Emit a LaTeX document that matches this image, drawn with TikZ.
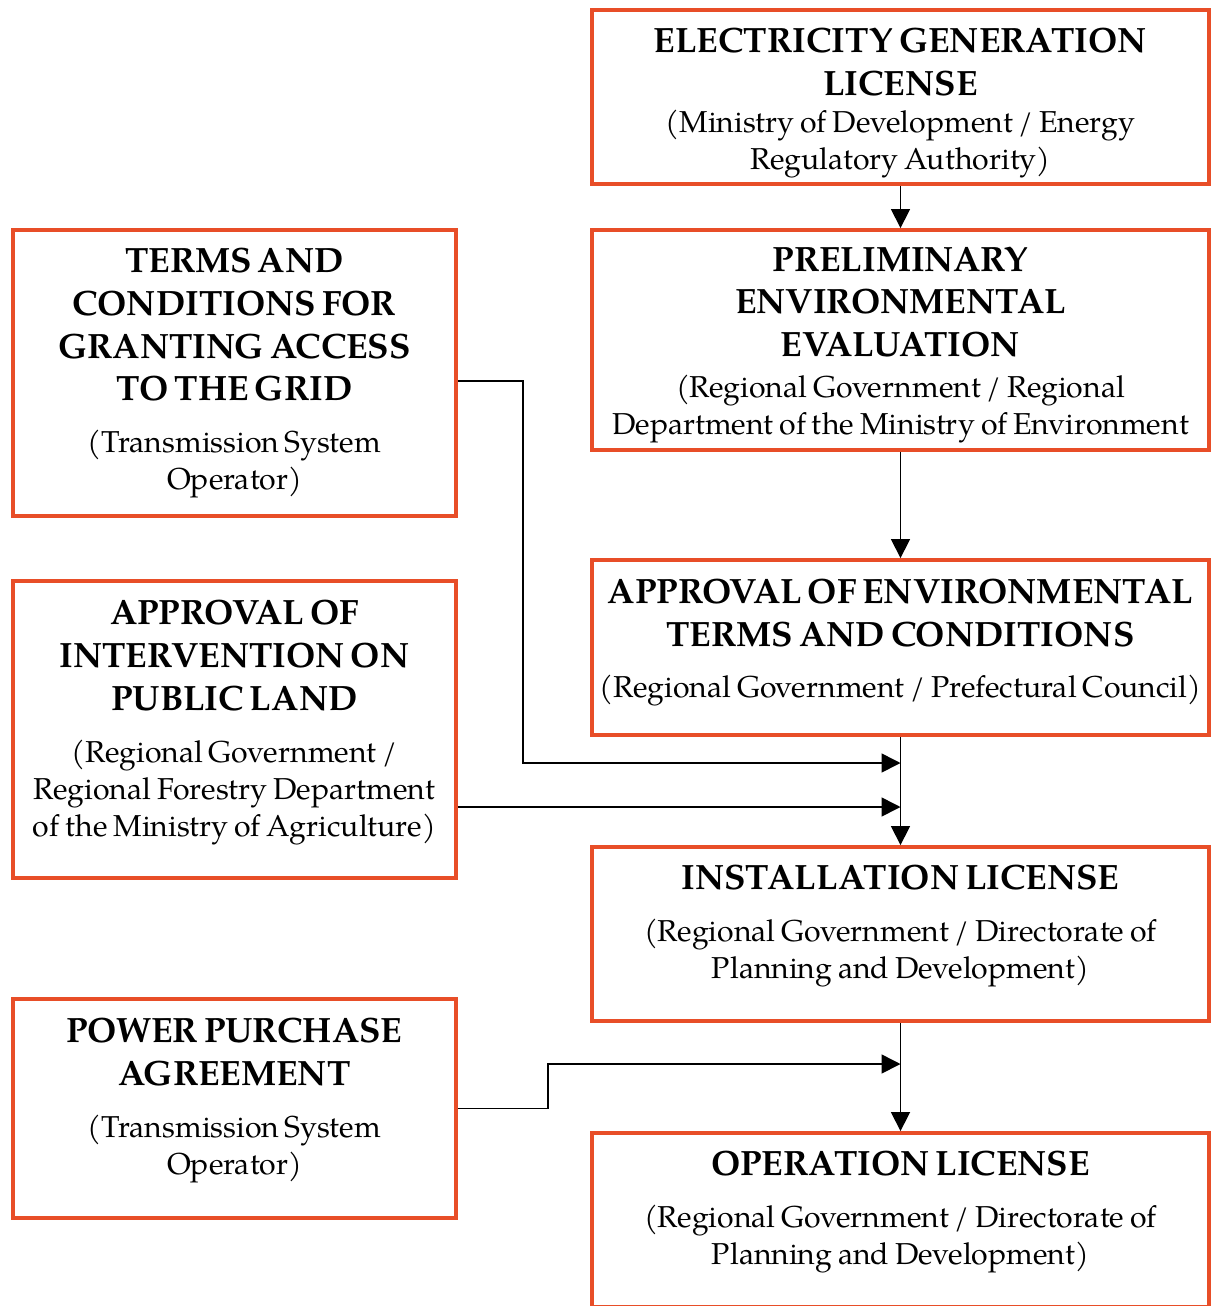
\documentclass[tikz,border=0pt]{standalone}
\usepackage{fontspec}
\setmainfont{TeX Gyre Pagella}
\usetikzlibrary{arrows.meta,positioning}
\definecolor{boxred}{HTML}{E84E28}
\newcommand{\ttl}{\fontsize{20}{24.4}\selectfont\bfseries}
\newcommand{\sub}{\fontsize{17.2}{21}\selectfont}
\begin{document}
\begin{tikzpicture}[box/.style = {draw=boxred, line width=2.2pt, rectangle, align=center, inner sep=0pt}, 
  rbox/.style = {box, minimum width=12.34cm, text width=12.1cm}, lbox/.style = {box, minimum width=8.86cm, text width=8.6cm}, 
  top/.style = {text height=#1}, 
  arr/.style = {line width=0.9pt, -{Triangle[length=0.38cm,width=0.38cm]}}] 
\useasboundingbox (0,0) rectangle (24.26,-26.12);

\node[rbox, minimum height=3.48cm, top=20.7pt] (egl) at (18.01,-1.94) {{\ttl ELECTRICITY GENERATION\\LICENSE\par}{\sub (Ministry of Development / Energy\\Regulatory Authority)\par}}; 
\node[rbox, minimum height=4.40cm, top=19.5pt] (pee) at (18.01,-6.80) {{\ttl PRELIMINARY\\ENVIRONMENTAL\\EVALUATION\par}\vspace{0.08cm}{\sub (Regional Government / Regional\\Department of the Ministry of Environment\par}}; 
\node[rbox, minimum height=3.50cm, top=8.3pt] (aetc) at (18.01,-12.95) {{\ttl APPROVAL OF ENVIRONMENTAL\\TERMS AND CONDITIONS\par}\vspace{0.3cm}{\sub (Regional Government / Prefectural Council)\par}}; 
\node[rbox, minimum height=3.48cm, top=5pt] (il) at (18.01,-18.68) {{\ttl INSTALLATION LICENSE\par}\vspace{0.3cm}{\sub (Regional Government / Directorate of\\Planning and Development)\par}}; 
\node[rbox, minimum height=3.48cm, top=5pt] (ol) at (18.01,-24.40) {{\ttl OPERATION LICENSE\par}\vspace{0.3cm}{\sub (Regional Government / Directorate of\\Planning and Development)\par}}; 

\node[lbox, minimum height=5.72cm] (tcga) at (4.69,-7.46) {{\ttl TERMS AND\\CONDITIONS FOR\\GRANTING ACCESS\\TO THE GRID\par}\vspace{0.3cm}{\sub (Transmission System\\Operator)\par}}; 
\node[lbox, minimum height=5.94cm, top=6pt] (aipl) at (4.69,-14.59) {{\ttl APPROVAL OF\\INTERVENTION ON\\PUBLIC LAND\par}\vspace{0.3cm}{\sub (Regional Government /\\Regional Forestry Department\\of the Ministry of Agriculture)\par}}; 
\node[lbox, minimum height=4.38cm, top=5pt] (ppa) at (4.69,-22.17) {{\ttl POWER PURCHASE\\AGREEMENT\par}\vspace{0.3cm}{\sub (Transmission System\\Operator)\par}}; 

% junctions on the main line
\coordinate (j1) at (aetc.south |- 0,-15.26); 
\coordinate (j2) at (aetc.south |- 0,-16.14); 
\coordinate (j3) at (il.south |- 0,-21.28); 

\draw[arr] (egl) -- (pee); 
\draw[arr] (pee) -- (aetc); 
\draw[arr] (aetc) -- (il); 
\draw[arr] (il) -- (ol); 

\draw[arr] ([yshift=-0.16cm]tcga.east) -- ++(1.3,0) |- (j1); 
\draw[arr] (aipl.east |- j2) -- (j2); 
\draw[arr] (ppa.east) -- ++(1.8,0) |- (j3); 
\end{tikzpicture}
\end{document}
